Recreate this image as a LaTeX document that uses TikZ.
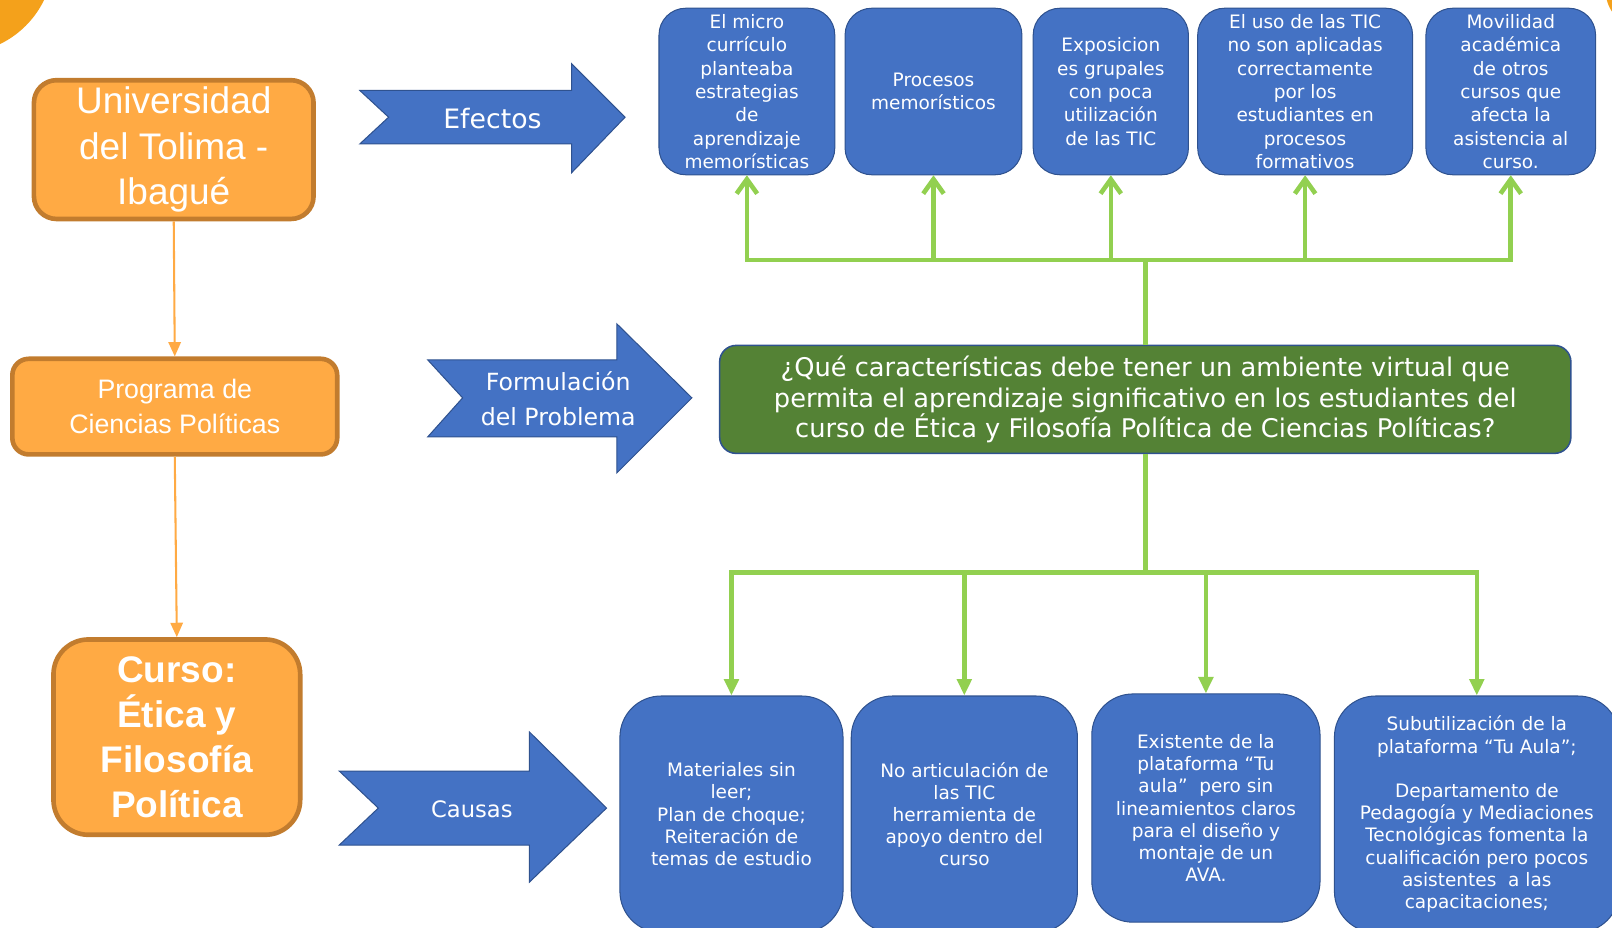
\documentclass[tikz,border=0pt]{standalone}
\usepackage{fontspec}
\setmainfont{DejaVu Sans}
\newfontfamily\arialfont{Liberation Sans}
\usetikzlibrary{arrows.meta}
\definecolor{azul}{HTML}{4472C4}
\definecolor{azulborde}{HTML}{2F528F}
\definecolor{naranja}{HTML}{FFAA44}
\definecolor{naranjaborde}{HTML}{C27C2E}
\definecolor{naranjafondo}{HTML}{F4A11B}
\definecolor{verdeq}{HTML}{548235}
\definecolor{verdelinea}{HTML}{92D050}
\begin{document}
\begin{tikzpicture}[x=1pt, y=-1pt, line join=miter,
	orgbox/.style={draw=naranjaborde, line width=4.5pt, fill=naranja, text=white, align=center, inner sep=0pt},
	efbox/.style={draw=azulborde, line width=1pt, fill=azul, text=white, align=center, inner sep=0pt, rounded corners=26pt, minimum height=162pt, font=\fontsize{18}{22.7}\selectfont},
	cabox/.style={draw=azulborde, line width=1pt, fill=azul, text=white, align=center, inner sep=0pt, rounded corners=40pt, font=\fontsize{18}{21.6}\selectfont},
	flecha/.style={draw=azulborde, line width=1pt, fill=azul},
	flechatxt/.style={text=white, align=center, inner sep=0pt},
	rama/.style={draw=verdelinea, line width=4.5pt},
	orgline/.style={draw=naranja, line width=2pt, -{Triangle[length=14pt,width=12pt]}}]
	\path[use as bounding box, clip] (0,0) rectangle (1568,902);
	\fill[naranjafondo] (-40,-40) circle (92);
	\fill[naranjafondo] (1596,-8) circle (34);

	\node[orgbox, rounded corners=22pt, minimum width=272pt, minimum height=135pt, font=\arialfont\fontsize{36}{44}\selectfont] (uni) at (169,145.5) {Universidad\\del Tolima -\\Ibagué};
	\node[orgbox, rounded corners=16pt, minimum width=316pt, minimum height=93pt, font=\arialfont\fontsize{26}{34}\selectfont] (prog) at (170,395.5) {Programa de\\Ciencias Políticas};
	\node[orgbox, rounded corners=34pt, minimum width=240pt, minimum height=190pt, font=\arialfont\bfseries\fontsize{36}{44}\selectfont] (curso) at (172,717) {Curso:\\Ética y\\Filosofía\\Política};
	\draw[orgline] (uni.south) -- (prog.north);
	\draw[orgline] (prog.south) -- (curso.north);

	\draw[flecha] (350,88) -- (556,88) -- (556,62) -- (608,114) -- (556,168) -- (556,140) -- (350,140) -- (378,114) -- cycle;
	\node[flechatxt, font=\fontsize{26}{32}\selectfont] (efectos) at (479,115) {Efectos};
	\draw[flecha] (416,350) -- (600,350) -- (600,315) -- (673,387) -- (600,460) -- (600,425) -- (416,425) -- (450,387) -- cycle;
	\node[flechatxt, font=\fontsize{23}{34}\selectfont] (formula) at (543,388) {Formulación\\del Problema};
	\draw[flecha] (330,750) -- (515,750) -- (515,712) -- (590,786) -- (515,858) -- (515,822) -- (330,822) -- (368,786) -- cycle;
	\node[flechatxt, font=\fontsize{22}{28}\selectfont] (causas) at (459,787) {Causas};

	\node[efbox, minimum width=171pt] (e1) at (726.5,89) {El micro\\currículo\\planteaba\\estrategias\\de\\aprendizaje\\memorísticas};
	\node[efbox, minimum width=172pt] (e2) at (908,89) {Procesos\\memorísticos};
	\node[efbox, minimum width=151pt] (e3) at (1080.5,89) {Exposicion\\es grupales\\con poca\\utilización\\de las TIC};
	\node[efbox, minimum width=209pt] (e4) at (1269.5,89) {El uso de las TIC\\no son aplicadas\\correctamente\\por los\\estudiantes en\\procesos\\formativos};
	\node[efbox, minimum width=165pt] (e5) at (1469.5,89) {Movilidad\\académica\\de otros\\cursos que\\afecta la\\asistencia al\\curso.};

	\node[draw=azulborde, line width=1.5pt, fill=verdeq, text=white, align=center, inner sep=0pt, rounded corners=16pt, minimum width=828pt, minimum height=105pt, font=\fontsize{25}{30}\selectfont] (q) at (1114,388.5) {¿Qué características debe tener un ambiente virtual que\\permita el aprendizaje significativo en los estudiantes del\\curso de Ética y Filosofía Política de Ciencias Políticas?};

	\node[cabox, minimum width=217pt, minimum height=230pt] (c1) at (711.5,792) {Materiales sin\\leer;\\Plan de choque;\\Reiteración de\\temas de estudio};
	\node[cabox, minimum width=220pt, minimum height=230pt] (c2) at (938,792) {No articulación de\\las TIC\\herramienta de\\apoyo dentro del\\curso};
	\node[cabox, minimum width=222pt, minimum height=222pt] (c3) at (1173,786) {Existente de la\\plataforma “Tu\\aula”\ \ pero sin\\lineamientos claros\\para el diseño y\\montaje de un\\AVA.};
	\node[cabox, minimum width=277pt, minimum height=230pt] (c4) at (1436.5,792) {Subutilización de la\\plataforma “Tu Aula”;\\[21.6pt]Departamento de\\Pedagogía y Mediaciones\\Tecnológicas fomenta la\\cualificación pero pocos\\asistentes\ \ a las\\capacitaciones;};

	\coordinate (tb) at (1114,253);
	\coordinate (bb) at (1114,557);
	\draw[rama] (q.north) -- (tb);
	\foreach \n in {e1,e2,e3,e4,e5}
		\draw[rama, -{Straight Barb[length=14pt,width=20pt]}] (tb) -| (\n.south);
	\draw[rama] (q.south) -- (bb);
	\foreach \n in {c1,c2,c3,c4}
		\draw[rama, -{Triangle[length=16pt,width=14pt]}] (bb) -| (\n.north);
\end{tikzpicture}
\end{document}
